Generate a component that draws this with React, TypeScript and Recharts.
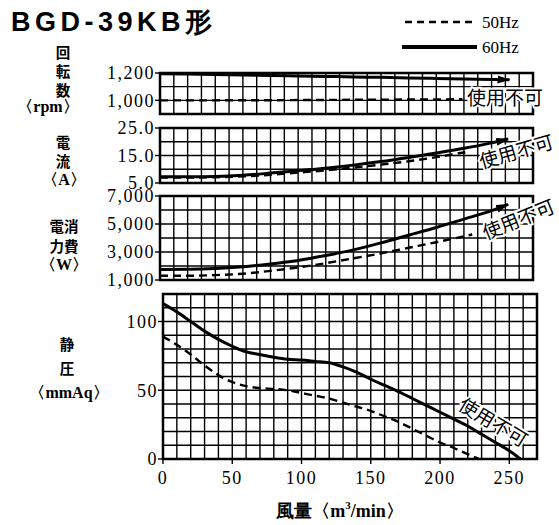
import { Line, LineChart, ReferenceArea, ReferenceLine, XAxis, YAxis } from "recharts";

const SERIF = '"Liberation Serif", "DejaVu Serif", serif';
const CJK = '"Noto Sans CJK JP", sans-serif';

// 回転数 (rpm)
const rpmFlow60 = [0, 20, 40, 60, 80, 100, 120, 140, 160, 180, 200, 220, 240, 253];
const rpm60 = [1195, 1192, 1189, 1185, 1182, 1178, 1175, 1171, 1168, 1164, 1160, 1157, 1153, 1151];
const rpmFlow50 = [0, 20, 40, 60, 80, 100, 120, 140, 160, 180, 200, 219];
const rpm50 = [1000, 1000, 1000, 1001, 1001, 1002, 1003, 1004, 1005, 1006, 1007, 1008];

// 電流 (A)
const ampFlow60 = [0, 20, 40, 60, 80, 100, 120, 140, 160, 180, 200, 220, 240, 252];
const amp60 = [7.3, 7.3, 7.4, 7.8, 8.6, 9.5, 10.4, 11.5, 12.8, 14.3, 15.9, 17.6, 19.6, 21.0];
const ampFlow50 = [0, 20, 40, 60, 80, 100, 120, 140, 160, 180, 200, 221];
const amp50 = [7.0, 7.0, 7.1, 7.4, 8.0, 8.8, 9.6, 10.6, 11.7, 12.9, 14.4, 16.2];

// 消費電力 (W)
const wattFlow60 = [0, 20, 40, 60, 80, 100, 120, 140, 160, 180, 200, 220, 240, 252];
const watt60 = [1750, 1760, 1820, 1950, 2150, 2400, 2750, 3150, 3650, 4200, 4750, 5350, 5950, 6400];
const wattFlow50 = [0, 20, 40, 60, 80, 100, 120, 140, 160, 180, 200, 226];
const watt50 = [1300, 1300, 1350, 1450, 1650, 1900, 2200, 2550, 2900, 3300, 3700, 4250];

// 静圧 (mmAq)
const spFlow60 = [0, 10, 20, 30, 40, 50, 60, 70, 80, 90, 100, 110, 120, 130, 140, 150, 160, 170, 180, 190, 200, 210, 220, 230, 240, 250, 258];
const sp60 = [113, 107, 100, 93, 87, 82, 78, 76, 74, 72.5, 72, 71, 70, 67, 63, 58, 53.5, 49, 44, 39, 34, 29, 24, 18, 12, 6, 0];
const spFlow50 = [0, 10, 20, 30, 40, 50, 60, 70, 80, 90, 100, 110, 120, 130, 140, 150, 160, 170, 180, 190, 200, 210, 220, 228];
const sp50 = [89, 83, 76, 68, 61, 56, 53, 51.5, 51, 50, 48, 46, 44, 41, 38, 35, 31, 27, 22, 17, 12, 8, 3.5, 0];

const flowGrid = Array.from({ length: 28 }, (_, i) => i * 10);
const flowTicks = [0, 50, 100, 150, 200, 250];

function zip(xs: number[], ys: number[]) {
  return xs.map((q, i) => ({ q, v: ys[i] }));
}

const tickStyle = { fontSize: 18, fontFamily: SERIF, fill: "#000", letterSpacing: 1.5 };

interface PanelProps {
  top: number;
  height: number;
  left: number;
  right: number;
  domain: [number, number];
  ticks: number[];
  grid: number[];
  fmt: (v: number) => string;
  s60: { q: number; v: number }[];
  s50: { q: number; v: number }[];
  arrow?: boolean;
  showX?: boolean;
}

function Panel({ top, height, left, right, domain, ticks, grid, fmt, s60, s50, arrow, showX }: PanelProps) {
  return (
    <div style={{ position: "absolute", left: 0, top }}>
      <LineChart width={559} height={height} margin={{ top: 10, right: 559 - right, bottom: showX ? 0 : 10, left: 0 }}>
        <XAxis
          dataKey="q"
          type="number"
          domain={[0, 270]}
          ticks={flowTicks}
          interval={0}
          hide={!showX}
          height={30}
          axisLine={false}
          tickLine={{ stroke: "#000", strokeWidth: 1.4 }}
          tickSize={5}
          tickMargin={7}
          tick={tickStyle}
          allowDuplicatedCategory={false}
        />
        <YAxis
          type="number"
          domain={domain}
          ticks={ticks}
          interval={0}
          width={left}
          axisLine={false}
          tickLine={{ stroke: "#000", strokeWidth: 1.4 }}
          tickSize={5}
          tickMargin={0}
          tickFormatter={fmt}
          tick={tickStyle}
          allowDataOverflow
        />
        {flowGrid.map((x) => (
          <ReferenceLine key={`vx${x}`} x={x} stroke="#000" strokeWidth={1.4} />
        ))}
        {grid.map((y) => (
          <ReferenceLine key={`hy${y}`} y={y} stroke="#000" strokeWidth={1.4} />
        ))}
        <ReferenceArea x1={0} x2={270} y1={domain[0]} y2={domain[1]} fill="none" stroke="#000" strokeWidth={2.5} fillOpacity={0} />
        <Line
          data={s50}
          dataKey="v"
          type="monotone"
          stroke="#000"
          strokeWidth={2.4}
          strokeDasharray="8 5"
          dot={false}
          isAnimationActive={false}
        />
        <Line
          data={s60}
          dataKey="v"
          type="monotone"
          stroke="#000"
          strokeWidth={3}
          dot={false}
          markerEnd={arrow ? "url(#arrowHead)" : undefined}
          isAnimationActive={false}
        />
      </LineChart>
    </div>
  );
}

const comma = (v: number) => v.toLocaleString("en-US");

function Halo({ x, y, rot, children }: { x: number; y: number; rot: number; children: string }) {
  return (
    <text
      x={x}
      y={y}
      transform={`rotate(${rot} ${x} ${y})`}
      textAnchor="middle"
      dominantBaseline="central"
      fontFamily={CJK}
      fontSize={19}
      fill="#000"
      stroke="#fff"
      strokeWidth={4}
      paintOrder="stroke"
    >
      {children}
    </text>
  );
}

export default function App() {
  return (
    <div style={{ position: "absolute", left: 0, top: 0, width: 559, height: 525, background: "#fff" }}>
      <Panel top={63} height={61} left={160} right={533} domain={[900, 1200]} ticks={[1000, 1200]}
        grid={[900, 1000, 1100, 1200]} fmt={comma} s60={zip(rpmFlow60, rpm60)} s50={zip(rpmFlow50, rpm50)} arrow />
      <Panel top={118} height={75} left={160} right={533} domain={[5, 25]} ticks={[5, 15, 25]}
        grid={[5, 10, 15, 20, 25]} fmt={(v) => v.toFixed(1)} s60={zip(ampFlow60, amp60)} s50={zip(ampFlow50, amp50)} arrow />
      <Panel top={186} height={104} left={160} right={533} domain={[1000, 7000]} ticks={[1000, 3000, 5000, 7000]}
        grid={[1000, 2000, 3000, 4000, 5000, 6000, 7000]} fmt={comma} s60={zip(wattFlow60, watt60)} s50={zip(wattFlow50, watt50)} arrow />
      <Panel top={284} height={205} left={163} right={537} domain={[0, 120]} ticks={[0, 50, 100]}
        grid={[0, 10, 20, 30, 40, 50, 60, 70, 80, 90, 100, 110, 120]} fmt={(v) => String(v)}
        s60={zip(spFlow60, sp60)} s50={zip(spFlow50, sp50)} showX />

      <svg width={559} height={525} style={{ position: "absolute", left: 0, top: 0, pointerEvents: "none" }}>
        <defs>
          <marker id="arrowHead" markerUnits="userSpaceOnUse" markerWidth={14} markerHeight={10} refX={12} refY={5} orient="auto">
            <path d="M0,1 L13,5 L0,9 Z" fill="#000" />
          </marker>
        </defs>

        <text x={11} y={31} fontFamily='"Liberation Sans", Arial, sans-serif' fontWeight={700} fontSize={27} letterSpacing={4.5} fill="#000">
          BGD-39KB形
        </text>

        {/* legend */}
        <line x1={405} y1={22} x2={472} y2={22} stroke="#000" strokeWidth={2.5} strokeDasharray="7 5" />
        <text x={482} y={22} dominantBaseline="central" fontFamily={SERIF} fontSize={17}>50Hz</text>
        <line x1={402} y1={47} x2={477} y2={47} stroke="#000" strokeWidth={4} />
        <text x={482} y={47} dominantBaseline="central" fontFamily={SERIF} fontSize={17}>60Hz</text>

        {/* panel titles */}
        <g fontFamily={CJK} fontWeight={700} fontSize={14.5} textAnchor="middle" dominantBaseline="central" fill="#000">
          <text x={63} y={51}>回</text>
          <text x={63} y={70}>転</text>
          <text x={63} y={89}>数</text>
          <text x={48} y={106} fontFamily={SERIF} fontSize={16}>〈rpm〉</text>
          <text x={63} y={141}>電</text>
          <text x={63} y={160}>流</text>
          <text x={64} y={179} fontFamily={SERIF} fontSize={16}>〈A〉</text>
          <text x={64} y={225}>電消</text>
          <text x={64} y={245}>力費</text>
          <text x={64} y={264} fontFamily={SERIF} fontSize={16}>〈W〉</text>
          <text x={67} y={343}>静</text>
          <text x={67} y={367}>圧</text>
          <text x={69} y={392} fontFamily={SERIF} fontSize={16}>〈mmAq〉</text>
        </g>

        <Halo x={505} y={96} rot={0}>使用不可</Halo>
        <Halo x={516} y={150} rot={-16}>使用不可</Halo>
        <Halo x={518} y={218} rot={-22}>使用不可</Halo>
        <Halo x={494} y={421} rot={31}>使用不可</Halo>

        <text x={340} y={511} textAnchor="middle" dominantBaseline="central" fontFamily={SERIF} fontWeight={700} fontSize={18}>
          風量〈m<tspan dy={-6} fontSize={11}>3</tspan><tspan dy={6}>/min〉</tspan>
        </text>
      </svg>
    </div>
  );
}
